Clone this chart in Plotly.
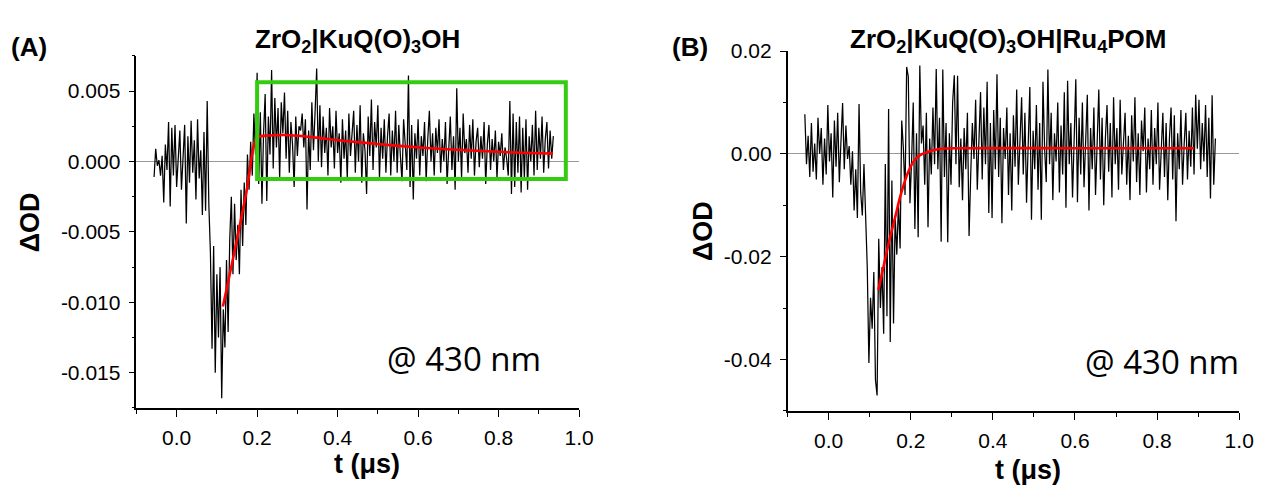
import numpy as np
import plotly.graph_objects as go

# ---------------- data ----------------
# Panel A: ZrO2|KuQ(O)3OH, sampled every DT_A microseconds starting at T0_A
T0_A = -0.056
DT_A = 0.004
a_od_milli = [
    -1.1, 0.9, -0.3, 0.1, -1.0, 0.4, -2.9, 1.2, -0.6, 2.8,
    -3.2, 2.4, -1.0, 2.6, -1.8, 0.5, 2.2, -2.0, 0.3, 2.6,
    -4.4, 1.8, -1.5, 2.9, -0.8, 1.5, -2.7, 3.0, -1.2, 0.8,
    -3.8, 2.1, -3.5, 4.3,
    -3.0, -6.5, -13.3, -6.0, -15.0, -8.0, -12.5, -7.5, -16.8, -10.5,
    -13.2, -7.0, -12.1, -5.5, -2.5, -8.0, -3.0, -7.0, -4.5, -8.0,
    -2.0, -6.0, -1.5, -4.5, 0.5, -2.0, 1.4, -1.0, 3.4, 0.5, 6.3,
    -1.6, 3.5, -3.0, 2.0, 4.8, -2.8, 3.2, 0.5, 6.5, -0.5,
    4.5, 1.0, 3.8, -1.2, 4.2, 2.0, 4.9, 0.2, 3.6, -0.8,
    2.8, 1.2, -1.8, 3.2, 0.4, 2.5, 2.2, 3.4, 1.0, 3.0,
    -3.4, 2.2, -0.6, 4.2, 0.8, 3.5, 6.6, 0.0, 4.0, -0.4,
    3.2, 0.6, 2.4, -1.0, 3.8, 1.0, 2.5, -0.5, 3.6, 0.6,
    2.0, -1.5, 3.0, 0.2, 2.2, -1.2, 3.4, 0.4, 1.8, 3.6,
    -0.8, 2.6, 0.0, 4.0, -1.5, 2.0, 0.8, -2.3, 3.2, 0.4,
    4.4, -0.6, 2.8, 1.0, 4.0, -1.2, 2.4, 0.2, 3.0, -0.8,
    1.8, 3.4, -1.0, 2.2, 0.0, 3.6, -0.8, 2.6, 0.4, -1.4,
    3.0, 1.0, -0.6, 6.1, -1.8, 2.6, -2.7, 2.0, 0.2, 3.0,
    -1.0, 1.8, 0.4, 2.8, -1.4, 1.6, 3.6, 0.0, 2.0, -1.0,
    2.4, 0.6, 3.0, -0.8, 1.6, 0.0, 2.8, -1.6, 1.4, 3.2,
    -0.6, 1.8, -2.0, 5.2, 0.0, 2.4, -1.2, 3.4, 0.6, 1.6,
    -0.8, 2.6, 0.2, 3.0, -1.0, 1.4, 2.4, -0.4, 1.8, 0.2,
    2.8, -1.6, 1.2, 2.6, -0.6, 1.6, 0.0, 2.2, -1.2, 1.4,
    0.4, 2.0, -0.6, 1.0, 0.2, -1.0, 4.3, -2.3, 3.4, -1.8,
    2.8, -0.8, 3.2, -2.2, 2.4, -1.2, 3.0, -2.0, 1.8, 0.0,
    2.6, -1.0, 3.6, -0.6, 2.4, 0.2, 3.2, -0.8, 1.6, 2.8,
    -0.5, 2.2, 0.2, 1.8,
]
# fit curve A (t in microseconds, dOD in mOD)
fit_a_t = [0.115, 0.135, 0.155, 0.175, 0.195, 0.205, 0.23, 0.27, 0.32, 0.37,
           0.42, 0.50, 0.584, 0.66, 0.746, 0.84, 0.935]
fit_a_milli = [-10.3, -7.6, -4.8, -1.9, 1.4, 1.75, 1.85, 1.88, 1.78, 1.62,
               1.46, 1.24, 1.04, 0.89, 0.76, 0.64, 0.56]

# Panel B: ZrO2|KuQ(O)3OH|Ru4POM
T0_B = -0.058
DT_B = 0.004
b_od_milli = [
    7.7, -2.0, 3.5, -4.5, 6.0, -3.5, 2.0, -5.0, 7.0, 0.0,
    5.0, -6.0, 3.0, -4.0, 9.5, -1.5, 4.0, -8.5, 6.5, -2.5,
    8.0, -5.5, 2.5, 9.9, -3.0, 5.5, -1.0, 1.5, -6.0, 0.5,
    -11.0, -3.0, -12.5, 9.7, -7.5, -12.0, -2.0, -14.0,
    -22.0, -40.7, -28.0, -34.0, -23.0, -44.0, -47.0, -16.5, -30.0, -22.0,
    -35.0, -2.0, -31.6, 8.7, -36.6, -5.2, -33.0, -12.0, -19.6, -9.6,
    -18.4, 6.5, 1.1, -8.0, 16.9, 15.0, -9.6, -1.4, 10.0, -14.6,
    4.0, -16.2, 17.2, 2.0, 5.5, -6.0, 8.0, -14.3, 3.0, -4.0,
    9.0, -2.0, 16.5, -3.0, 7.0, -17.1, 16.4, -4.5, 6.0, -17.2,
    4.0, -6.0, 10.0, 15.3, -2.0, 15.2, -6.5, 3.0, -9.0, 5.0,
    -3.0, 8.0, -16.0, -4.0, 6.0, -1.0, 10.5, -7.0, 3.5, 12.0,
    -5.0, 9.0, -2.0, 14.0, -11.5, 6.0, -12.5, 8.5, -3.0, 15.5,
    -4.5, 7.0, -13.5, 5.0, -1.0, 9.0, -8.0, 4.0, -11.0, 7.5,
    -2.5, 12.5, -6.0, 3.0, 11.0, -4.0, 8.0, -9.5, 2.0, 13.0,
    -12.8, 4.5, -3.0, 9.5, -7.0, 6.0, -12.8, 14.0, 1.0, -5.5,
    16.4, -2.0, 8.0, -9.0, 4.0, -1.5, 10.0, -7.5, 5.5, -4.0,
    12.0, -10.5, 14.2, -2.0, 6.0, -8.5, 3.0, 14.5, -9.4, 7.0,
    -4.0, 10.0, -6.5, 2.5, 11.5, -11.0, 5.0, -3.0, 9.0, -8.0,
    4.0, 12.5, -5.0, 7.0, -10.0, 3.0, 9.5, -3.5, 6.0, -8.5,
    11.0, -2.0, 5.0, -7.0, 10.5, -4.0, 2.0, 8.0, -6.0, 3.5,
    -9.0, 7.5, -1.5, 11.0, -5.5, 4.0, -8.0, 6.5, 0.5, 9.0,
    -7.5, 3.0, -3.0, 8.5, -6.0, 5.0, -2.0, 10.0, -7.0, 2.5,
    8.0, -4.5, 6.0, -9.0, 3.0, 9.0, -5.0, 7.5, -13.1, 4.0,
    -3.0, 8.5, -6.0, 2.0, 8.0, -5.0, 4.5, -2.5, 9.0, -4.0,
    11.5, 1.0, 10.5, -3.0, 6.0, -1.5, 9.5, -4.5, 7.0, -8.7,
    11.4, -6.0, 3.0,
]
fit_b_t = [0.121, 0.134, 0.147, 0.163, 0.172, 0.179, 0.186, 0.194, 0.203, 0.213,
           0.224, 0.235, 0.255, 0.275, 0.32, 0.60, 0.89]
fit_b_milli = [-26.5, -21.8, -17.1, -12.0, -9.0, -7.0, -5.2, -3.5, -2.0, -0.9,
               -0.2, 0.2, 0.7, 1.0, 1.1, 1.1, 1.1]

# highlighted region in panel A (data coordinates)
box_t = [0.2, 0.967]
box_od = [-0.00125, 0.00563]

# tick labels
xtick_vals = [0.0, 0.2, 0.4, 0.6, 0.8, 1.0]
xtick_text = ["0.0", "0.2", "0.4", "0.6", "0.8", "1.0"]
ya_vals = [-0.015, -0.010, -0.005, 0.0, 0.005]
ya_text = ["-0.015", "-0.010", "-0.005", "0.000", "0.005"]
yb_vals = [-0.04, -0.02, 0.0, 0.02]
yb_text = ["-0.04", "-0.02", "0.00", "0.02"]

# ---------------- figure ----------------
W, H = 1272, 486
t_a = T0_A + DT_A * np.arange(len(a_od_milli))
t_b = T0_B + DT_B * np.arange(len(b_od_milli))
od_a = np.array(a_od_milli) * 1e-3
od_b = np.array(b_od_milli) * 1e-3

fig = go.Figure()
fig.add_trace(go.Scatter(x=t_a, y=od_a, mode="lines", line=dict(color="black", width=1.25),
                         xaxis="x", yaxis="y", showlegend=False))
fig.add_trace(go.Scatter(x=fit_a_t, y=np.array(fit_a_milli) * 1e-3, mode="lines",
                         line=dict(color="#ff0000", width=2.6, shape="spline"),
                         xaxis="x", yaxis="y", showlegend=False))
fig.add_trace(go.Scatter(x=t_b, y=od_b, mode="lines", line=dict(color="black", width=1.25),
                         xaxis="x2", yaxis="y2", showlegend=False))
fig.add_trace(go.Scatter(x=fit_b_t, y=np.array(fit_b_milli) * 1e-3, mode="lines",
                         line=dict(color="#ff0000", width=2.6, shape="spline"),
                         xaxis="x2", yaxis="y2", showlegend=False))

FONT = "Liberation Sans, Arial, sans-serif"
tickfont = dict(family=FONT, size=21, color="black")

def xaxis_cfg(domain, anchor):
    return dict(domain=domain, anchor=anchor, range=[-0.1, 1.0],
                tickmode="array", tickvals=xtick_vals, ticktext=xtick_text,
                ticks="outside", ticklen=7, tickwidth=1.2, tickcolor="black",
                minor=dict(ticks="outside", dtick=0.1, tick0=0, ticklen=4,
                           tickwidth=1.2, tickcolor="black"),
                showline=True, linecolor="black", linewidth=1.5,
                showgrid=False, zeroline=False, tickfont=tickfont,
                ticklabelstandoff=3)

def yaxis_cfg(domain, anchor, rng, vals, text, minor_dtick):
    return dict(domain=domain, anchor=anchor, range=rng,
                tickmode="array", tickvals=vals, ticktext=text,
                ticks="outside", ticklen=6, tickwidth=1.2, tickcolor="black",
                minor=dict(ticks="outside", dtick=minor_dtick, tick0=0, ticklen=3,
                           tickwidth=1.2, tickcolor="black"),
                showline=True, linecolor="black", linewidth=1.5,
                showgrid=False, zeroline=True, zerolinecolor="#9a9a9a",
                zerolinewidth=1, tickfont=tickfont, ticklabelstandoff=4)

fig.update_layout(
    width=W, height=H, autosize=False,
    margin=dict(l=0, r=0, t=0, b=0),
    paper_bgcolor="white", plot_bgcolor="white",
    xaxis=xaxis_cfg([138 / W, 586 / W], "y"),
    yaxis=yaxis_cfg([1 - 406 / H, 1 - 45 / H], "x", [-0.0175, 0.0075], ya_vals, ya_text, 0.0025),
    xaxis2=xaxis_cfg([797 / W, 1254 / W], "y2"),
    yaxis2=yaxis_cfg([1 - 409 / H, 1 - 40 / H], "x2", [-0.05, 0.02], yb_vals, yb_text, 0.01),
)

fig.add_shape(type="rect", xref="x", yref="y", x0=box_t[0], x1=box_t[1],
              y0=box_od[0], y1=box_od[1], line=dict(color="#33cc11", width=4),
              fillcolor="rgba(0,0,0,0)")

def ann(text, px, py, size, angle=0, family=FONT):
    fig.add_annotation(text=text, x=px / W, y=1 - py / H, xref="paper", yref="paper",
                       showarrow=False, textangle=angle, xanchor="center", yanchor="middle",
                       font=dict(family=family, size=size, color="black"))

ann("<b>ZrO<sub>2</sub>|KuQ(O)<sub>3</sub>OH</b>", 362, 29, 26)
ann("<b>ZrO<sub>2</sub>|KuQ(O)<sub>3</sub>OH|Ru<sub>4</sub>POM</b>", 1020, 29, 26)
ann("<b>(A)</b>", 29, 36, 26)
ann("<b>(B)</b>", 698, 36, 26)
ann("<b>ΔOD</b>", 30, 216, 27, -90)
ann("<b>ΔOD</b>", 712, 225, 27, -90)
ann("<b>t (μs)</b>", 371, 463, 27)
ann("<b>t (μs)</b>", 1040, 470, 27)
ann("@ 430 nm", 470, 355, 33, family="Open Sans, Noto Sans, sans-serif")
ann("@ 430 nm", 1176, 358, 33, family="Open Sans, Noto Sans, sans-serif")

fig.write_html("out.html")
